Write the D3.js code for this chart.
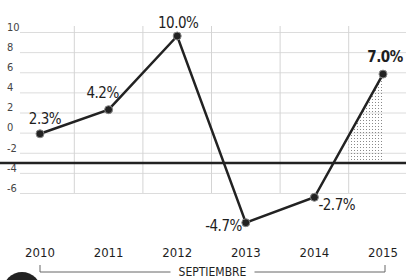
<!DOCTYPE html>
<html>
  <head>
    <meta charset="utf-8">
    <script src="https://d3js.org/d3.v7.min.js"></script>
    <style>
      body { margin: 0; background: #fff; }
      .lbl { font-family: "DejaVu Sans Condensed", "Liberation Sans Narrow", "DejaVu Sans", sans-serif; font-stretch: condensed; fill: #1e1e1e; }
      .grid line { stroke: #dcdcdc; stroke-width: 1; }
      .grid path { display: none; }
      .grid text { font-family: "DejaVu Sans Condensed", "DejaVu Sans", sans-serif; font-stretch: condensed; font-size: 11px; fill: #444; }
    </style>
  </head>
  <body>
    <script>
      // values
      const years = [2010, 2011, 2012, 2013, 2014, 2015];
      const growth = [2.3, 4.2, 10.0, -4.7, -2.7, 7.0];
      const pointLabels = ['2.3%', '4.2%', '10.0%', '-4.7%', '-2.7%', '7.0%'];
      const axisTicks = [10, 8, 6, 4, 2, 0, -2, -4, -6];
      const bracketText = 'SEPTIEMBRE';

      const width = 406;
      const height = 280;

      const x = d3.scaleLinear().domain([2010, 2015]).range([40, 383]);
      // the printed axis labels don't line up with the plotted points, so two scales
      const y = d3.scaleLinear().domain([0, 10]).range([163, 36]);
      const yAxis = d3.scaleLinear().domain([-6, 10]).range([193, 32]);

      const svg = d3.select('body')
        .append('svg')
        .attr('width', width)
        .attr('height', height);

      // horizontal grid + tick labels
      const g = svg.append('g')
        .attr('class', 'grid')
        .attr('transform', 'translate(20,0)')
        .call(d3.axisLeft(yAxis)
          .tickValues(axisTicks)
          .tickFormat(d => String(d))
          .tickSize(-(width - 20))
          .tickPadding(3));
      g.selectAll('text')
        .attr('text-anchor', 'start')
        .attr('x', -13)
        .attr('dy', '-0.15em');

      // vertical grid between years
      const mids = years.slice(0, -1).map(d => d + 0.5);
      svg.selectAll('.vgrid')
        .data(mids)
        .enter()
        .append('line')
        .attr('x1', d => x(d))
        .attr('x2', d => x(d))
        .attr('y1', yAxis(10) - 6)
        .attr('y2', yAxis(-6))
        .attr('stroke', '#d4d4d4')
        .attr('stroke-width', 1);

      // stippled area for the last stretch
      const pat = svg.append('defs').append('pattern')
        .attr('id', 'dots')
        .attr('width', 3)
        .attr('height', 3)
        .attr('patternUnits', 'userSpaceOnUse');
      pat.append('rect').attr('width', 1).attr('height', 1).attr('fill', '#8a8a8a');

      const n = years.length;
      const midVal = (growth[n - 2] + growth[n - 1]) / 2;
      const shade = [
        { x: years[n - 2] + 0.5, v: midVal },
        { x: years[n - 1], v: growth[n - 1] }
      ];
      svg.append('path')
        .datum(shade)
        .attr('d', d3.area().x(d => x(d.x)).y0(y(0)).y1(d => y(d.v)))
        .attr('fill', 'url(#dots)');

      // zero line
      svg.append('line')
        .attr('x1', 0)
        .attr('x2', width)
        .attr('y1', y(0))
        .attr('y2', y(0))
        .attr('stroke', '#222')
        .attr('stroke-width', 2.5);

      const data = years.map((yr, i) => ({ yr, v: growth[i], label: pointLabels[i] }));

      svg.append('path')
        .datum(data)
        .attr('d', d3.line().x(d => x(d.yr)).y(d => y(d.v)))
        .attr('fill', 'none')
        .attr('stroke', '#222')
        .attr('stroke-width', 2.5);

      svg.selectAll('.pt')
        .data(data)
        .enter()
        .append('circle')
        .attr('cx', d => x(d.yr))
        .attr('cy', d => y(d.v))
        .attr('r', 4)
        .attr('fill', '#222')
        .attr('stroke', '#888')
        .attr('stroke-width', 1);

      // point labels
      const labelPos = [
        { dx: 5, dy: -10, anchor: 'middle' },
        { dx: -6, dy: -12, anchor: 'middle' },
        { dx: 1, dy: -8, anchor: 'middle' },
        { dx: -4, dy: 8, anchor: 'end' },
        { dx: 4, dy: 13, anchor: 'start' },
        { dx: 2, dy: -12, anchor: 'middle' }
      ];
      svg.selectAll('.pl')
        .data(data)
        .enter()
        .append('text')
        .attr('class', 'lbl')
        .attr('x', (d, i) => x(d.yr) + labelPos[i].dx)
        .attr('y', (d, i) => y(d.v) + labelPos[i].dy)
        .attr('text-anchor', (d, i) => labelPos[i].anchor)
        .attr('font-size', 15)
        .attr('font-weight', (d, i) => i === n - 1 ? 'bold' : 'normal')
        .attr('letter-spacing', -0.5)
        .text(d => d.label);

      // year labels
      svg.selectAll('.yr')
        .data(years)
        .enter()
        .append('text')
        .attr('class', 'lbl')
        .attr('x', d => x(d))
        .attr('y', 257)
        .attr('text-anchor', 'middle')
        .attr('font-size', 13)
        .attr('fill', '#333')
        .text(d => d);

      // bracket
      const by = 272;
      const bx0 = x(years[0]);
      const bx1 = x(years[n - 1]) + 2;
      const cx = (bx0 + bx1) / 2;
      svg.append('text')
        .attr('class', 'lbl')
        .attr('x', cx)
        .attr('y', by + 4)
        .attr('text-anchor', 'middle')
        .attr('font-size', 12)
        .text(bracketText);
      svg.append('path')
        .attr('d', `M${bx0},${by - 7}V${by}H${cx - 42}M${cx + 42},${by}H${bx1}V${by - 7}`)
        .attr('fill', 'none')
        .attr('stroke', '#666')
        .attr('stroke-width', 1);

      // dark blob of a logo cut by the bottom edge
      svg.append('circle')
        .attr('cx', 22)
        .attr('cy', 291)
        .attr('r', 19)
        .attr('fill', '#222');
    </script>
  </body>
</html>
